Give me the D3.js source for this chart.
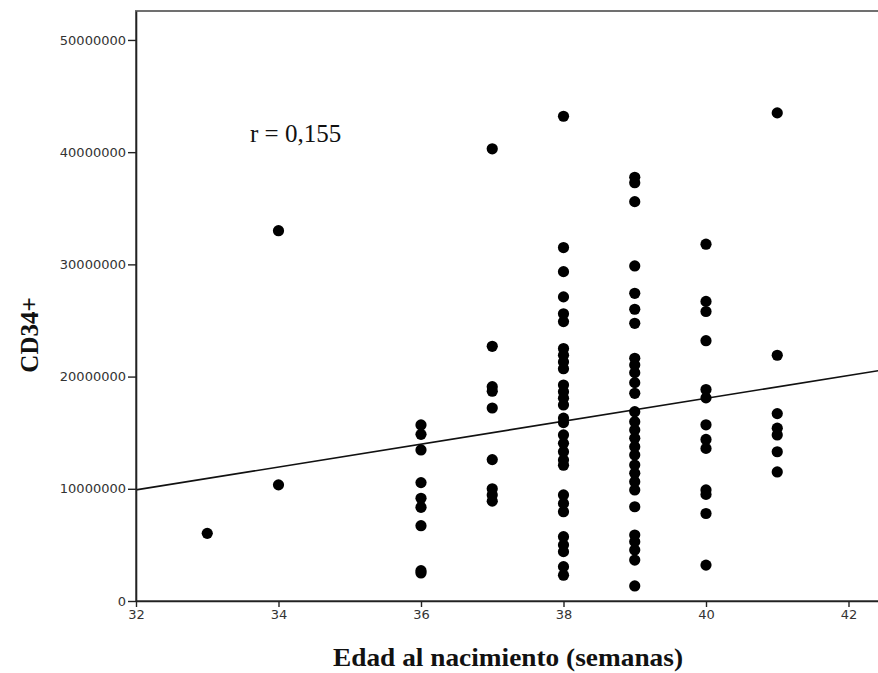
<!DOCTYPE html>
<html>
<head>
<meta charset="utf-8">
<script src="https://cdn.jsdelivr.net/npm/d3@7"></script>
<style>
  body { margin: 0; background: #fff; }
  svg { display: block; }
</style>
</head>
<body>
<div id="chart"></div>
<script>
// CD34+ (millones) por edad al nacimiento (semanas)
var semanas = [33, 34, 36, 37, 38, 39, 40, 41];
var cd34_33 = [6.03];
var cd34_34 = [33.0, 10.35];
var cd34_36 = [15.69, 14.85, 13.46, 10.55, 9.15, 8.35, 6.71, 2.7, 2.5];
var cd34_37 = [40.3, 22.7, 19.1, 18.7, 17.2, 12.6, 10.0, 9.45, 8.9];
var cd34_38 = [43.2, 31.5, 29.35, 27.1, 25.6, 24.9, 22.5, 21.9, 21.3, 20.7, 19.25, 18.65, 18.07, 17.47,
               16.3, 15.9, 14.8, 14.05, 13.3, 12.57, 12.1, 9.45, 8.7, 7.96, 5.73, 5.0, 4.4, 3.06, 2.3];
var cd34_39 = [37.76, 37.28, 35.59, 29.86, 27.42, 26.0, 24.75, 21.63, 21.03, 20.35, 19.46, 18.51, 16.87,
               15.98, 15.24, 14.5, 13.75, 13.01, 12.12, 11.38, 10.63, 9.89, 8.4, 5.88, 5.29, 4.55, 3.65, 1.34];
var cd34_40 = [31.8, 26.7, 25.8, 23.2, 18.85, 18.1, 15.7, 14.4, 13.6, 9.9, 9.5, 7.8, 3.2];
var cd34_41 = [43.5, 21.9, 16.7, 15.4, 14.8, 13.3, 11.5];
var grupos = [cd34_33, cd34_34, cd34_36, cd34_37, cd34_38, cd34_39, cd34_40, cd34_41];

// recta de regresion: CD34+ = a + b * semanas (millones)
var regIntercept = -22.74;
var regSlope = 1.02;
var rTexto = "r = 0,155";

var xTicks = [32, 34, 36, 38, 40, 42];
var yTicks = [0, 10, 20, 30, 40, 50];

var margin = {top: 11, left: 136},
    width = 71.25 * 11,
    height = 590;

var svg = d3.select("#chart")
  .append("svg")
    .attr("width", 878)
    .attr("height", 673)
  .append("g")
    .attr("transform", "translate(" + margin.left + "," + margin.top + ")");

var x = d3.scaleLinear().domain([32, 43]).range([0, width]);
var y = d3.scaleLinear().domain([0, 52.58]).range([height, 0]);

// marco
svg.append("rect")
  .attr("x", 0).attr("y", 0)
  .attr("width", width).attr("height", height)
  .attr("fill", "#fff")
  .attr("stroke", "#707070")
  .attr("stroke-width", 2);

var data = [];
semanas.forEach(function(s, i) {
  grupos[i].forEach(function(v) { data.push({sem: s, val: v}); });
});

// recta
svg.append("path")
  .datum([32, 43])
  .attr("fill", "none")
  .attr("stroke", "#111")
  .attr("stroke-width", 1.6)
  .attr("d", d3.line()
    .x(function(d) { return x(d); })
    .y(function(d) { return y(regIntercept + regSlope * d); }));

svg.selectAll("circle.pt")
  .data(data)
  .enter().append("circle")
    .attr("class", "pt")
    .attr("cx", function(d) { return x(d.sem); })
    .attr("cy", function(d) { return y(d.val); })
    .attr("r", 5.6)
    .attr("fill", "#000");

// ejes
var yAxis = svg.append("g")
  .call(d3.axisLeft(y).tickValues(yTicks).tickSize(8).tickSizeOuter(0).tickPadding(2)
    .tickFormat(function(d) { return d3.format("d")(d * 1e6); }));
var xAxis = svg.append("g")
  .attr("transform", "translate(0," + height + ")")
  .call(d3.axisBottom(x).tickValues(xTicks).tickSize(6).tickSizeOuter(0).tickPadding(3));

[yAxis, xAxis].forEach(function(ax) {
  ax.select(".domain").attr("stroke", "#222").attr("stroke-width", 1.6);
  ax.selectAll(".tick line").attr("stroke", "#222").attr("stroke-width", 1.4);
  ax.selectAll("text")
    .style("font-family", "'DejaVu Sans', sans-serif")
    .style("font-size", "13px")
    .attr("fill", "#333");
});

svg.append("text")
  .attr("x", x(33.6))
  .attr("y", 131)
  .style("font-family", "'Liberation Serif', serif")
  .style("font-size", "25px")
  .attr("fill", "#111")
  .text(rTexto);

svg.append("text")
  .attr("transform", "translate(" + (508 - margin.left) + "," + (666 - margin.top) + ")")
  .attr("text-anchor", "middle")
  .attr("textLength", 350)
  .attr("lengthAdjust", "spacingAndGlyphs")
  .style("font-family", "'Liberation Serif', serif")
  .style("font-weight", "bold")
  .style("font-size", "25px")
  .attr("fill", "#111")
  .text("Edad al nacimiento (semanas)");

svg.append("text")
  .attr("transform", "translate(" + (38 - margin.left) + "," + (335 - margin.top) + ") rotate(-90)")
  .attr("text-anchor", "middle")
  .style("font-family", "'Liberation Serif', serif")
  .style("font-weight", "bold")
  .style("font-size", "25px")
  .attr("fill", "#111")
  .text("CD34+");
</script>
</body>
</html>
